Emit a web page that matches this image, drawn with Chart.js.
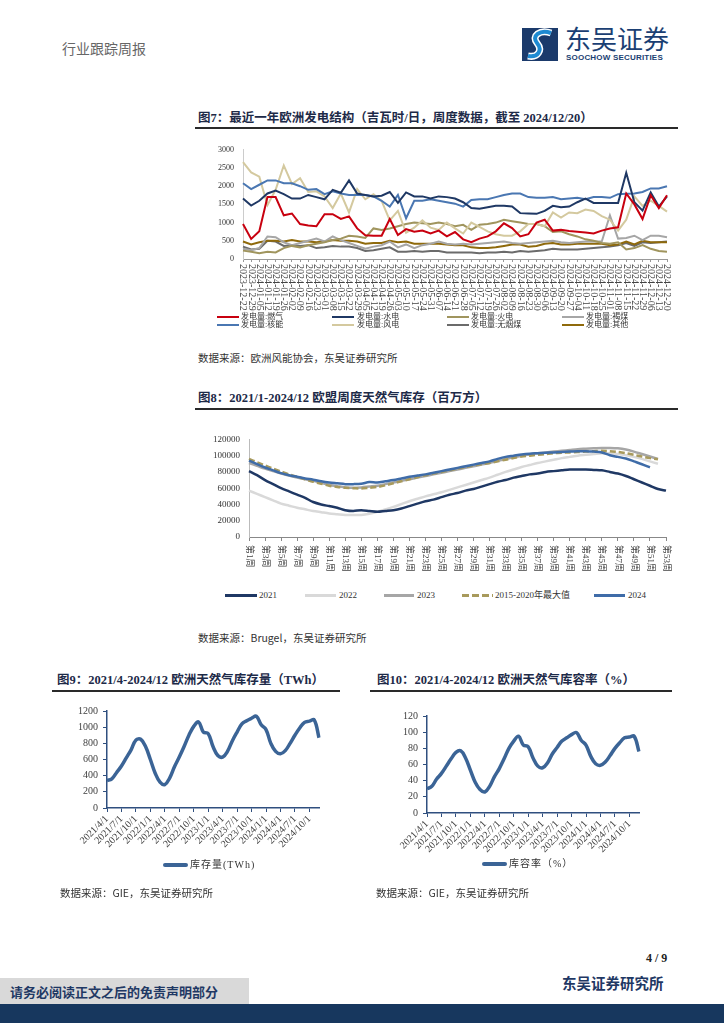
<!DOCTYPE html>
<html>
<head>
<meta charset="utf-8">
<script src="https://cdn.jsdelivr.net/npm/chart.js@4.4.1/dist/chart.umd.min.js"></script>
<style>
body { margin:0; width:724px; height:1024px; position:relative; background:#fff; overflow:hidden;
  font-family:"Liberation Serif","Noto Sans CJK SC",serif; }
.abs { position:absolute; white-space:nowrap; }
.title { position:absolute; font-weight:bold; font-size:12.5px; line-height:16px; color:#1d2a48; white-space:nowrap; }
.rule { position:absolute; height:2px; background:#2a2a2a; }
.src { position:absolute; font-size:10.5px; line-height:14px; color:#333; white-space:nowrap; font-family:"Noto Sans CJK SC","Liberation Serif"; }
.leg { position:absolute; font-size:8px; line-height:8px; color:#333; white-space:nowrap; }
.sw { position:absolute; }
canvas { position:absolute; }
</style>
</head>
<body>

<!-- header -->
<div class="abs" style="left:62px;top:38px;font-size:14px;color:#666;font-family:'Noto Sans CJK SC'">行业跟踪周报</div>
<svg class="abs" style="left:522px;top:28px" width="36" height="33" viewBox="0 0 36 33">
  <rect x="0" y="0" width="36" height="33" fill="#1b3a6b"/>
  <path d="M29 5 C18 1 9 8 15 15 C21 22 16 30 6 28" stroke="#fff" stroke-width="7" fill="none"/>
  <path d="M29 5 C18 1 9 8 15 15 C21 22 16 30 6 28" stroke="#1e8ad2" stroke-width="4" fill="none"/>
</svg>
<div class="abs" style="left:565px;top:22px;font-size:26px;line-height:32px;color:#1b3f73;font-family:'Noto Sans CJK SC'">东吴证券</div>
<div class="abs" style="left:566px;top:53px;font-size:8px;line-height:9px;color:#1b3f73;font-weight:bold;font-family:'Liberation Sans';letter-spacing:0.2px">SOOCHOW SECURITIES</div>

<!-- figure 7 -->
<div class="title" style="left:198px;top:110px">图7：最近一年欧洲发电结构（吉瓦时/日，周度数据，截至 2024/12/20）</div>
<div class="rule" style="left:195px;top:127px;width:483px"></div>
<canvas id="c7" width="476" height="176" style="left:200px;top:136px"></canvas>

<div class="sw" style="left:217px;top:316px;width:22px;height:2px;background:#c8000f"></div>
<div class="leg" style="left:241px;top:313px">发电量:燃气</div>
<div class="sw" style="left:332px;top:316px;width:22px;height:2px;background:#1f3864"></div>
<div class="leg" style="left:357px;top:313px">发电量:水电</div>
<div class="sw" style="left:447px;top:316px;width:22px;height:2px;background:#a0955e"></div>
<div class="leg" style="left:471px;top:313px">发电量:火电</div>
<div class="sw" style="left:562px;top:316px;width:22px;height:2px;background:#a6a6a6"></div>
<div class="leg" style="left:586px;top:313px">发电量:褐煤</div>
<div class="sw" style="left:217px;top:324px;width:22px;height:2px;background:#4a77b2"></div>
<div class="leg" style="left:241px;top:321px">发电量:核能</div>
<div class="sw" style="left:332px;top:324px;width:22px;height:2px;background:#d4c99f"></div>
<div class="leg" style="left:357px;top:321px">发电量:风电</div>
<div class="sw" style="left:447px;top:324px;width:22px;height:2px;background:#6b6b6b"></div>
<div class="leg" style="left:471px;top:321px">发电量:无烟煤</div>
<div class="sw" style="left:562px;top:324px;width:22px;height:2px;background:#8f6a0c"></div>
<div class="leg" style="left:586px;top:321px">发电量:其他</div>

<div class="src" style="left:198px;top:351px">数据来源：欧洲风能协会，东吴证券研究所</div>

<!-- figure 8 -->
<div class="title" style="left:198px;top:390px">图8：2021/1-2024/12 欧盟周度天然气库存（百万方）</div>
<div class="rule" style="left:195px;top:408px;width:483px"></div>
<canvas id="c8" width="478" height="152" style="left:200px;top:425px"></canvas>

<div class="sw" style="left:225px;top:594px;width:32px;height:3px;background:#1f3864"></div>
<div class="leg" style="left:259px;top:591px;font-size:9px;line-height:9px">2021</div>
<div class="sw" style="left:305px;top:594px;width:31px;height:3px;background:#d9d9d9"></div>
<div class="leg" style="left:339px;top:591px;font-size:9px;line-height:9px">2022</div>
<div class="sw" style="left:384px;top:594px;width:30px;height:3px;background:#a6a6a6"></div>
<div class="leg" style="left:417px;top:591px;font-size:9px;line-height:9px">2023</div>
<div class="sw" style="left:462px;top:594px;width:31px;height:3px;background:repeating-linear-gradient(to right,#a89a5c 0 7px,transparent 7px 10px)"></div>
<div class="leg" style="left:495px;top:591px;font-size:9px;line-height:9px">2015-2020年最大值</div>
<div class="sw" style="left:594px;top:594px;width:31px;height:3px;background:#3f6ca8"></div>
<div class="leg" style="left:628px;top:591px;font-size:9px;line-height:9px">2024</div>

<div class="src" style="left:198px;top:631px">数据来源：Brugel，东吴证券研究所</div>

<!-- figure 9 -->
<div class="title" style="left:57px;top:672px">图9：2021/4-2024/12 欧洲天然气库存量（TWh）</div>
<div class="rule" style="left:52px;top:690px;width:288px"></div>
<canvas id="c9" width="275" height="160" style="left:55px;top:700px"></canvas>
<div class="sw" style="left:163px;top:863px;width:25px;height:4px;background:#3b6496;border-radius:2px"></div>
<div class="leg" style="left:190px;top:859px;font-size:10px;line-height:11px;letter-spacing:1px">库存量(TWh)</div>
<div class="src" style="left:60px;top:886px">数据来源：GIE，东吴证券研究所</div>

<!-- figure 10 -->
<div class="title" style="left:377px;top:672px">图10：2021/4-2024/12 欧洲天然气库容率（%）</div>
<div class="rule" style="left:370px;top:690px;width:302px"></div>
<canvas id="c10" width="275" height="160" style="left:375px;top:705px"></canvas>
<div class="sw" style="left:482px;top:862px;width:25px;height:4px;background:#3b6496;border-radius:2px"></div>
<div class="leg" style="left:509px;top:858px;font-size:10px;line-height:11px;letter-spacing:1px">库容率（%）</div>
<div class="src" style="left:376px;top:886px">数据来源：GIE，东吴证券研究所</div>

<!-- footer -->
<div class="abs" style="left:646px;top:951px;font-size:12px;font-weight:bold;color:#222">4 / 9</div>
<div class="abs" style="left:562px;top:974px;font-size:14.5px;line-height:18px;font-weight:bold;color:#1f3864;font-family:'Noto Sans CJK SC'">东吴证券研究所</div>
<div class="abs" style="left:0;top:978px;width:249px;height:26px;background:#d9d9d9"></div>
<div class="abs" style="left:10px;top:984px;font-size:13px;line-height:16px;font-weight:bold;color:#1f3864;font-family:'Noto Sans CJK SC'">请务必阅读正文之后的免责声明部分</div>
<div class="abs" style="left:0;top:1004px;width:724px;height:19px;background:#17375e"></div>

<script>
// ---------- 图7 欧洲发电结构 (GWh/日) ----------
const powerDates = ['2023-12-22','2023-12-29','2024-01-05','2024-01-12','2024-01-19','2024-01-26','2024-02-02','2024-02-09','2024-02-16','2024-02-23','2024-03-01','2024-03-08','2024-03-15','2024-03-22','2024-03-29','2024-04-05','2024-04-12','2024-04-19','2024-04-26','2024-05-03','2024-05-10','2024-05-17','2024-05-24','2024-05-31','2024-06-07','2024-06-14','2024-06-21','2024-06-28','2024-07-05','2024-07-12','2024-07-19','2024-07-26','2024-08-02','2024-08-09','2024-08-16','2024-08-23','2024-08-30','2024-09-06','2024-09-13','2024-09-20','2024-09-27','2024-10-04','2024-10-11','2024-10-18','2024-10-25','2024-11-01','2024-11-08','2024-11-15','2024-11-22','2024-11-29','2024-12-06','2024-12-13','2024-12-20'];
const gasPower = [960,550,760,1700,1700,1200,1250,960,920,900,1230,1230,1100,1170,840,650,640,640,1100,660,820,750,780,700,780,620,740,540,460,560,620,760,980,850,620,680,1000,1080,780,800,770,750,730,700,780,840,870,1800,1500,1100,1750,1400,1750];
const hydroPower = [1660,1470,1600,1800,1880,1780,1660,1660,1760,1700,1640,1900,1820,2160,1800,1760,1720,1740,1840,1540,1830,1720,1720,1660,1720,1700,1660,1560,1400,1380,1420,1460,1460,1440,1260,1250,1240,1320,1460,1420,1440,1560,1660,1540,1540,1540,1540,2370,1560,1330,1830,1440,1720];
const thermalPower = [230,200,160,200,180,300,360,320,380,420,460,520,560,640,620,580,840,800,840,900,960,1000,980,960,1000,960,900,940,800,940,960,1000,1080,1040,1000,960,960,900,740,760,680,620,540,500,440,420,460,260,300,380,280,220,200];
const ligniteCoal = [280,240,300,620,600,460,380,440,500,560,480,620,520,440,360,280,340,380,480,320,400,300,380,420,480,420,400,420,400,420,440,460,480,440,420,440,460,480,500,460,440,460,480,480,480,1200,560,580,640,520,640,640,600];
const nuclearPower = [2080,1920,2040,2160,2160,2080,2080,2000,1900,1920,1780,1860,1800,1760,1760,1760,1720,1600,1440,1760,1120,1600,1600,1640,1600,1560,1520,1440,1620,1640,1640,1700,1760,1800,1800,1700,1680,1680,1700,1640,1660,1680,1640,1700,1700,1680,1780,1790,1800,1840,1940,1940,2000];
const windPower = [2660,2380,2260,1480,1900,2570,2060,2220,1840,1860,1720,1400,1800,1280,1920,1640,1780,1600,1060,1320,720,860,1060,860,800,1000,840,700,1000,880,760,680,640,640,760,960,960,900,1280,1140,1280,1260,1360,1320,1180,1080,780,1080,1720,1460,1600,1460,1300];
const hardCoal = [340,260,280,500,480,360,380,360,380,300,320,360,340,340,300,220,240,280,320,200,200,220,200,220,220,180,180,180,180,160,180,180,200,180,220,200,220,240,280,260,260,260,280,300,320,340,380,440,360,460,440,460,480];
const otherPower = [480,400,460,500,500,480,520,480,480,460,480,520,500,500,480,420,440,440,500,460,480,420,420,420,420,400,380,380,320,300,300,320,360,400,400,340,360,420,440,400,400,420,420,420,420,380,400,480,400,500,460,460,460];

// ---------- 图8 欧盟周度天然气库存 (百万方) ----------
const weekLabels = ['第1周','第2周','第3周','第4周','第5周','第6周','第7周','第8周','第9周','第10周','第11周','第12周','第13周','第14周','第15周','第16周','第17周','第18周','第19周','第20周','第21周','第22周','第23周','第24周','第25周','第26周','第27周','第28周','第29周','第30周','第31周','第32周','第33周','第34周','第35周','第36周','第37周','第38周','第39周','第40周','第41周','第42周','第43周','第44周','第45周','第46周','第47周','第48周','第49周','第50周','第51周','第52周','第53周'];
const stock2021 = [81000,76000,70000,65000,60000,56000,52000,48000,43000,40000,38000,36000,33000,32000,33000,32000,31000,32000,33000,35000,38000,41000,44000,46000,49000,52000,54000,57000,59000,62000,65000,68000,70000,73000,75000,77000,78000,80000,81000,82000,83000,83000,83000,82500,82000,80000,78000,75000,71000,67000,63000,59000,57000];
const stock2022 = [57000,53000,49000,45000,41000,38500,36000,34000,32000,30500,29000,28000,27000,27000,27000,28500,31000,34000,37000,40500,44000,47000,50000,52500,55000,58000,61000,64000,67000,70000,73000,76500,80000,83000,86000,88500,91000,93000,95000,97000,98500,100000,101000,102000,103000,103000,102000,100500,98500,96000,93000,90000,null];
const stock2023 = [91000,87500,84000,81000,78000,75500,73000,71000,69000,66500,64000,62500,61000,60500,61000,62000,63000,65000,67000,69000,71000,73000,75000,77000,79000,81000,83000,85000,87000,89000,91000,93500,96000,98000,100000,101500,103000,104000,105000,106000,107000,108000,108500,109000,109500,109500,109000,107500,105000,102000,99000,96000,null];
const stockMax1520 = [96000,92000,88000,84000,80500,77000,74000,71000,68000,65500,63000,61500,60500,60000,59500,60500,61500,63500,66000,68500,71000,73500,76000,78000,80000,82000,84000,86000,88000,89500,91000,93000,95000,97000,99000,100000,101000,102000,103000,103500,104000,104500,105000,105500,106000,105500,104500,103000,101000,99000,97000,95500,null];
const stock2024 = [94000,89500,85500,82000,78500,76000,74000,72000,70500,68500,67000,66000,65000,65000,65500,67500,67000,68500,70000,72000,74000,75500,77000,79000,81000,83000,85000,87000,89000,91000,93000,96000,98500,100000,101500,102500,103000,103500,104000,104500,105000,105500,105500,105000,104000,100500,98500,96500,93000,89500,85500,null,null];

// ---------- 图9/图10 欧洲天然气库存量 / 库容率 ----------
const monthLabels = ['2021/4/1','2021/5/1','2021/6/1','2021/7/1','2021/8/1','2021/9/1','2021/10/1','2021/11/1','2021/12/1','2022/1/1','2022/2/1','2022/3/1','2022/4/1','2022/5/1','2022/6/1','2022/7/1','2022/8/1','2022/9/1','2022/10/1','2022/11/1','2022/12/1','2023/1/1','2023/2/1','2023/3/1','2023/4/1','2023/5/1','2023/6/1','2023/7/1','2023/8/1','2023/9/1','2023/10/1','2023/11/1','2023/12/1','2024/1/1','2024/2/1','2024/3/1','2024/4/1','2024/5/1','2024/6/1','2024/7/1','2024/8/1','2024/9/1','2024/10/1','2024/11/1','2024/12/1'];
const storageTWh = [340,360,440,520,620,720,840,850,760,600,430,320,290,370,510,630,760,900,1010,1065,940,920,760,650,630,700,830,940,1040,1080,1110,1135,1030,970,800,700,670,710,800,900,990,1060,1075,1090,870];
const storagePct = [30,33,42,49,58,67,75,77,68,53,38,29,26,33,45,55,67,80,89,95,84,82,68,58,56,62,73,81,89,93,97,99.5,90,84,70,61,59,63,71,80,87,93,94,95,76];

Chart.defaults.font.family = '"Liberation Serif", "Noto Sans CJK SC", serif';
Chart.defaults.color = '#333';

// plain numbers on the y axis, no thousands separator
const plainTick = v => String(v);

// x labels written top-down (rotated clockwise), placed at the scale's tick pixels
const downLabels = {
  id: 'downLabels',
  afterDraw(chart, args, opts) {
    if (!opts.labels) return;
    const xs = chart.scales.x;
    const ctx = chart.ctx;
    ctx.save();
    ctx.font = opts.font;
    ctx.fillStyle = opts.color;
    ctx.textAlign = 'left';
    ctx.textBaseline = 'middle';
    opts.labels.forEach((lab, i) => {
      if (i % opts.step !== 0) return;
      ctx.save();
      ctx.translate(xs.getPixelForValue(i), xs.top + opts.gap);
      ctx.rotate(Math.PI / 2);
      ctx.fillText(lab, 0, 0);
      ctx.restore();
    });
    ctx.restore();
  }
};

function lineSet(label, data, color, width, extra) {
  return Object.assign({ label: label, data: data, borderColor: color, borderWidth: width,
    pointRadius: 0, fill: false, tension: 0, spanGaps: false }, extra || {});
}

// figure 7
new Chart(document.getElementById('c7'), {
  type: 'line',
  data: {
    labels: powerDates,
    datasets: [
      lineSet('发电量:燃气', gasPower, '#c8000f', 2),
      lineSet('发电量:水电', hydroPower, '#1f3864', 2),
      lineSet('发电量:核能', nuclearPower, '#4a77b2', 2),
      lineSet('发电量:风电', windPower, '#d4c99f', 2),
      lineSet('发电量:火电', thermalPower, '#a0955e', 2),
      lineSet('发电量:褐煤', ligniteCoal, '#a6a6a6', 2),
      lineSet('发电量:其他', otherPower, '#8f6a0c', 2),
      lineSet('发电量:无烟煤', hardCoal, '#6b6b6b', 2)
    ]
  },
  options: {
    responsive: false,
    animation: false,
    layout: { padding: { top: 10, right: 9, left: 0, bottom: 0 } },
    plugins: {
      legend: { display: false },
      tooltip: { enabled: false },
      downLabels: { labels: powerDates, step: 1, font: '10px "Liberation Serif"', color: '#444', gap: 5 }
    },
    scales: {
      x: {
        ticks: { display: false },
        grid: { drawOnChartArea: false, tickLength: 3, color: '#999' },
        border: { color: '#999' },
        afterFit(s) { s.height = 53; }
      },
      y: {
        min: 0, max: 3000,
        ticks: { stepSize: 500, padding: 9, font: { size: 8 }, color: '#333', callback: plainTick },
        grid: { display: false, drawTicks: false },
        border: { color: '#ccc' },
        afterFit(s) { s.width = 43; }
      }
    }
  },
  plugins: [downLabels]
});

// figure 8
new Chart(document.getElementById('c8'), {
  type: 'line',
  data: {
    labels: weekLabels,
    datasets: [
      lineSet('2024', stock2024, '#3f6ca8', 2.5, { tension: 0.3 }),
      lineSet('2021', stock2021, '#1f3864', 2.5, { tension: 0.3 }),
      lineSet('2015-2020年最大值', stockMax1520, '#a89a5c', 2.5, { tension: 0.3, borderDash: [6, 3] }),
      lineSet('2023', stock2023, '#a6a6a6', 2.5, { tension: 0.3 }),
      lineSet('2022', stock2022, '#d9d9d9', 2.5, { tension: 0.3 })
    ]
  },
  options: {
    responsive: false,
    animation: false,
    layout: { padding: { top: 10, right: 12, left: 0, bottom: 0 } },
    plugins: {
      legend: { display: false },
      tooltip: { enabled: false },
      downLabels: { labels: weekLabels, step: 2, font: '9px "Liberation Serif", "Noto Sans CJK SC"', color: '#444', gap: 8 }
    },
    scales: {
      x: {
        ticks: { display: false },
        grid: { drawOnChartArea: false, tickLength: 4,
          color: c => (c.index % 2 === 0 ? '#888' : 'rgba(0,0,0,0)') },
        border: { color: '#888' },
        afterFit(s) { s.height = 40; }
      },
      y: {
        min: 0, max: 120000,
        ticks: { stepSize: 20000, padding: 9, font: { size: 9 }, color: '#333', callback: plainTick },
        grid: { display: false, drawTicks: false },
        border: { color: '#bbb' },
        afterFit(s) { s.width = 49; }
      }
    }
  },
  plugins: [downLabels]
});

// figures 9 and 10
function storageChart(id, values, yMax, yStep) {
  new Chart(document.getElementById(id), {
    type: 'line',
    data: {
      labels: monthLabels,
      datasets: [lineSet(id, values, '#3b6496', 3.5, { tension: 0.4 })]
    },
    options: {
      responsive: false,
      animation: false,
      layout: { padding: { top: 9, right: 11, left: 0, bottom: 0 } },
      plugins: { legend: { display: false }, tooltip: { enabled: false } },
      scales: {
        x: {
          ticks: {
            autoSkip: false, minRotation: 45, maxRotation: 45, padding: 1,
            font: { size: 10 }, color: '#404040',
            callback(v, i) { return i % 3 === 0 ? this.getLabelForValue(v) : null; }
          },
          grid: { drawOnChartArea: false, tickLength: 4, color: '#2f4f7f' },
          border: { color: '#2f4f7f', width: 1.5 },
          afterFit(s) { s.height = 52; }
        },
        y: {
          min: 0, max: yMax,
          ticks: { stepSize: yStep, padding: 5, font: { size: 10 }, color: '#404040', callback: plainTick },
          grid: { drawOnChartArea: false, tickLength: 4, color: '#2f4f7f' },
          border: { color: '#2f4f7f', width: 1.5 },
          afterFit(s) { s.width = 52; }
        }
      }
    }
  });
}
storageChart('c9', storageTWh, 1200, 200);
storageChart('c10', storagePct, 120, 20);
</script>
</body>
</html>
